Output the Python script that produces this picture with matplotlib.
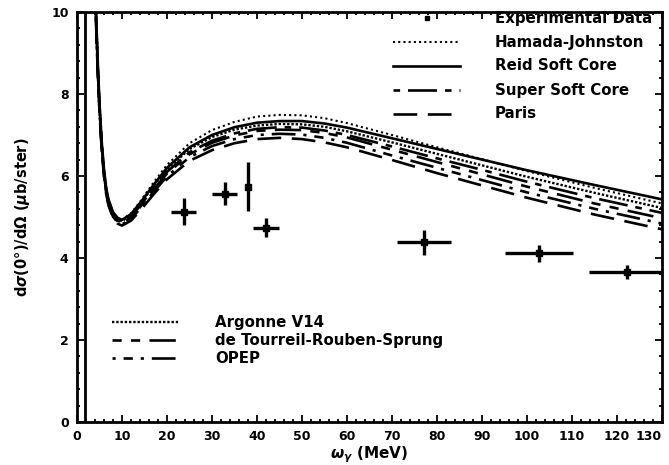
import matplotlib
matplotlib.use("Agg")
import matplotlib.pyplot as plt
from matplotlib.ticker import MultipleLocator
from matplotlib.lines import Line2D

plt.rcParams['font.family'] = ['DejaVu Sans']
plt.rcParams['font.weight'] = 'bold'

# ---------------- data ----------------
omega = [4.2, 4.6, 5, 5.5, 6, 6.5, 7, 8, 9, 10, 12, 14, 17, 20, 25, 30, 35,
         40, 45, 50, 55, 60, 70, 80, 90, 100, 115, 130]

hamada_johnston = [10.0, 8.7, 7.7, 6.75, 6.1, 5.67, 5.41, 5.11, 4.98, 4.93, 5.09, 5.37,
                   5.84, 6.27, 6.8, 7.12, 7.32, 7.45, 7.49, 7.48, 7.41, 7.29, 7.0, 6.7,
                   6.41, 6.12, 5.71, 5.33]
reid_soft_core = [10.1, 8.8, 7.78, 6.82, 6.16, 5.7, 5.43, 5.12, 4.98, 4.93, 5.07, 5.34,
                  5.78, 6.2, 6.7, 7.0, 7.19, 7.3, 7.34, 7.34, 7.28, 7.18, 6.92, 6.66,
                  6.4, 6.14, 5.78, 5.43]
argonne_v14 = [10.0, 8.72, 7.72, 6.77, 6.12, 5.67, 5.4, 5.09, 4.95, 4.9, 5.05, 5.31,
               5.76, 6.16, 6.66, 6.95, 7.13, 7.23, 7.27, 7.26, 7.2, 7.09, 6.82, 6.54,
               6.26, 5.98, 5.59, 5.22]
super_soft_core = [9.95, 8.66, 7.67, 6.72, 6.08, 5.63, 5.36, 5.06, 4.92, 4.87, 5.01, 5.27,
                   5.7, 6.1, 6.58, 6.86, 7.04, 7.15, 7.19, 7.18, 7.11, 7.0, 6.72, 6.43,
                   6.15, 5.86, 5.46, 5.1]
de_tourreil = [9.9, 8.62, 7.63, 6.69, 6.05, 5.61, 5.34, 5.04, 4.9, 4.85, 4.98, 5.24,
               5.67, 6.06, 6.53, 6.81, 6.99, 7.1, 7.13, 7.12, 7.05, 6.94, 6.64, 6.34,
               6.04, 5.74, 5.33, 4.97]
opep = [9.85, 8.58, 7.6, 6.66, 6.02, 5.58, 5.31, 5.01, 4.87, 4.82, 4.95, 5.2,
        5.61, 5.99, 6.46, 6.73, 6.9, 7.0, 7.03, 7.01, 6.93, 6.81, 6.5, 6.2,
        5.9, 5.6, 5.2, 4.84]
paris = [9.8, 8.55, 7.57, 6.63, 5.99, 5.55, 5.28, 4.98, 4.84, 4.79, 4.91, 5.15,
         5.55, 5.92, 6.37, 6.63, 6.8, 6.9, 6.93, 6.9, 6.82, 6.7, 6.39, 6.07,
         5.77, 5.47, 5.06, 4.7]

threshold = 1.7  # vertical rise of all curves at threshold

exp_omega = [23.7, 32.8, 37.9, 42.0, 77.0, 102.7, 122.3]
exp_sigma = [5.13, 5.57, 5.74, 4.74, 4.38, 4.11, 3.67]
exp_xerr = [2.8, 2.7, 0.0, 2.9, 6.0, 7.5, 8.5]
exp_yerr = [0.33, 0.28, 0.6, 0.23, 0.3, 0.2, 0.17]

x_ticks = [0, 10, 20, 30, 40, 50, 60, 70, 80, 90, 100, 110, 120, 130]
y_ticks = [0, 2, 4, 6, 8, 10]

top_labels = ["Experimental Data", "Hamada-Johnston", "Reid Soft Core",
              "Super Soft Core", "Paris"]
bottom_labels = ["Argonne V14", "de Tourreil-Rouben-Sprung", "OPEP"]

# ---------------- styles ----------------
K = 'black'
LW = 1.9
styles = {
    "Hamada-Johnston": dict(ls=(0, (1, 1.5)), lw=1.5),
    "Reid Soft Core": dict(ls='-', lw=LW),
    "Super Soft Core": dict(ls=(0, (2.5, 3, 11, 3)), lw=LW),
    "Paris": dict(ls=(0, (9, 4)), lw=LW),
    "Argonne V14": dict(ls=(0, (1, 0.8)), lw=1.7),
    "de Tourreil-Rouben-Sprung": dict(ls=(0, (3.5, 3.5, 3.5, 3.5, 10, 3.5)), lw=LW),
    "OPEP": dict(ls=(0, (1.2, 3, 3.5, 3, 1.2, 3, 9, 3)), lw=LW),
}
series = {
    "Hamada-Johnston": hamada_johnston,
    "Reid Soft Core": reid_soft_core,
    "Super Soft Core": super_soft_core,
    "Paris": paris,
    "Argonne V14": argonne_v14,
    "de Tourreil-Rouben-Sprung": de_tourreil,
    "OPEP": opep,
}

W, H = 669, 465
fig = plt.figure(figsize=(W / 100, H / 100), dpi=100)
L, R, T, B = 77, 662, 12, 422
ax = fig.add_axes([L / W, 1 - B / H, (R - L) / W, (B - T) / H])

for name, vals in series.items():
    ax.plot(omega, vals, color=K, solid_capstyle='butt', dash_capstyle='butt', **styles[name])

ax.vlines(threshold, 0, 10, color=K, lw=2.0)

ax.errorbar(exp_omega, exp_sigma, xerr=exp_xerr, yerr=exp_yerr, fmt='s', ms=4,
            color=K, ecolor=K, elinewidth=2.4, capsize=0)

# ticks
ax.set_xticks(x_ticks, [str(t) for t in x_ticks])
ax.set_yticks(y_ticks, [str(t) for t in y_ticks])
ax.set_xlim(0, 130)
ax.set_ylim(0, 10)
ax.xaxis.set_minor_locator(MultipleLocator(2))
ax.yaxis.set_minor_locator(MultipleLocator(0.4))
ax.tick_params(which='both', direction='in', top=True, right=True, width=1.3)
ax.tick_params(which='major', length=5, labelsize=9, pad=6)
ax.tick_params(which='minor', length=2.5)
for lab in ax.get_xticklabels() + ax.get_yticklabels():
    lab.set_fontweight('bold')
ax.get_xticklabels()[-1].set_horizontalalignment('right')
for s in ax.spines.values():
    s.set_linewidth(2.0)

ax.set_xlabel(r"$\omega_\gamma$ (MeV)", fontsize=11, fontweight='bold', labelpad=1)
ax.set_ylabel(r"d$\sigma$(0$\degree$)/d$\Omega$ ($\mu$b/ster)", fontsize=10.5,
              fontweight='bold', labelpad=14)

# ---------------- manual legends (pixel layout) ----------------
def px(x, y):
    return (x / W, 1 - y / H)

def legend_row(label, y, hx0, hx1, tx, is_marker=False):
    if is_marker:
        fig.add_artist(Line2D([px((hx0 + hx1) / 2, y)[0]], [px(0, y)[1]], marker='s', ms=3,
                              color=K, ls='none', transform=fig.transFigure))
    else:
        st = styles[label]
        fig.add_artist(Line2D([px(hx0, y)[0], px(hx1, y)[0]], [px(0, y)[1]] * 2,
                              color=K, transform=fig.transFigure, **st))
    fig.text(px(tx, y)[0], px(tx, y)[1], label, fontsize=10.8, fontweight='bold',
             va='center', ha='left')

top_rows = [18, 42, 66, 90, 114]
for i, lab in enumerate(top_labels):
    legend_row(lab, top_rows[i], 393, 460, 495, is_marker=(i == 0))

bot_rows = [322, 340, 358]
for i, lab in enumerate(bottom_labels):
    legend_row(lab, bot_rows[i], 112, 180, 215)

fig.savefig("out.png", dpi=100)
